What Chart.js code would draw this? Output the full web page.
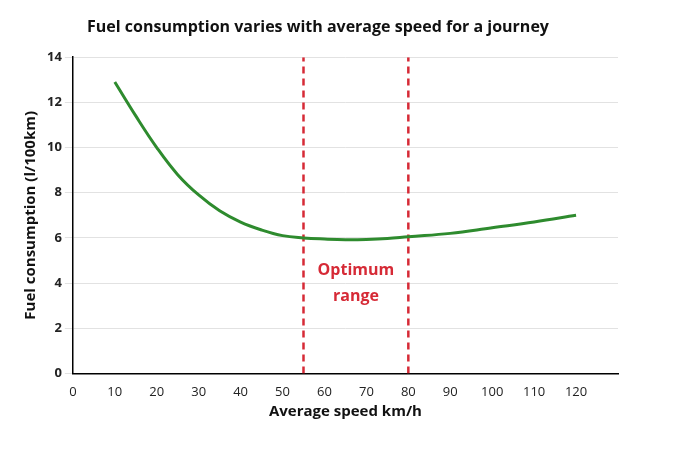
<!DOCTYPE html>
<html>
<head>
<script src="https://cdn.jsdelivr.net/npm/chart.js@4"></script>
<style>
  body { margin: 0; background: #fff; }
  #wrap { width: 680px; height: 453px; }
</style>
</head>
<body>
<div id="wrap"><canvas id="myChart"></canvas></div>
<script>
// chart data
const speeds = [10, 15, 20, 25, 30, 35, 40, 45, 50, 55, 60, 65, 70, 75, 80, 90, 100, 110, 120];
const consumption = [12.9, 11.4, 10.0, 8.8, 7.9, 7.2, 6.7, 6.35, 6.1, 6.0, 5.95, 5.92, 5.93, 5.97, 6.05, 6.2, 6.45, 6.7, 7.0];
const optimumBounds = [55, 80];
const optimumLabel = ["Optimum", "range"];

const font = "'Open Sans', 'DejaVu Sans', sans-serif";

// text label for the optimum range
const labelPlugin = {
    id: 'optimumLabel',
    afterDatasetsDraw(chart) {
        const c = chart.ctx;
        const xs = chart.scales.x, ys = chart.scales.y;
        const cx = xs.getPixelForValue((optimumBounds[0] + optimumBounds[1]) / 2);
        c.save();
        c.fillStyle = '#d62a36';
        c.font = "bold 16px " + font;
        c.textAlign = 'center';
        c.fillText(optimumLabel[0], cx, ys.getPixelForValue(4.35));
        c.fillText(optimumLabel[1], cx, ys.getPixelForValue(3.2));
        c.restore();
    }
};

const lines = optimumBounds.map(v => ({
    data: [{x: v, y: 0}, {x: v, y: 14}],
    borderColor: '#d62a36',
    borderWidth: 2.5,
    borderDash: [7, 5],
    pointRadius: 0
}));

new Chart(document.getElementById('myChart'), {
    type: 'line',
    data: {
        datasets: [
            {
                data: speeds.map((s, i) => ({x: s, y: consumption[i]})),
                borderColor: '#2e8b2e',
                borderWidth: 3,
                tension: 0.4,
                pointRadius: 0
            },
            ...lines
        ]
    },
    options: {
        responsive: true,
        maintainAspectRatio: false,
        animation: false,
        layout: { padding: { left: 18, right: 62, top: 18, bottom: 32 } },
        plugins: {
            legend: { display: false },
            tooltip: { enabled: false },
            title: {
                display: true,
                text: 'Fuel consumption varies with average speed for a journey',
                color: '#111',
                font: { family: font, size: 16, weight: 'bold' },
                padding: { bottom: 20 }
            }
        },
        scales: {
            x: {
                type: 'linear', min: 0, max: 130,
                ticks: {
                    stepSize: 10, color: '#222',
                    font: { family: font, size: 13 },
                    callback: v => v <= 120 ? v : ''
                },
                grid: { display: false },
                border: { color: '#000', width: 1.5 },
                title: {
                    display: true, text: 'Average speed km/h', color: '#111',
                    font: { family: font, size: 15, weight: 'bold' }, padding: 0
                }
            },
            y: {
                min: 0, max: 14,
                ticks: { stepSize: 2, color: '#222', font: { family: font, size: 13, weight: 'bold' } },
                grid: { color: '#e2e2e2', drawTicks: true },
                border: { color: '#000', width: 1.5 },
                title: {
                    display: true, text: 'Fuel consumption (l/100km)', color: '#111',
                    font: { family: font, size: 15, weight: 'bold' }
                }
            }
        }
    },
    plugins: [labelPlugin]
});
</script>
</body>
</html>
